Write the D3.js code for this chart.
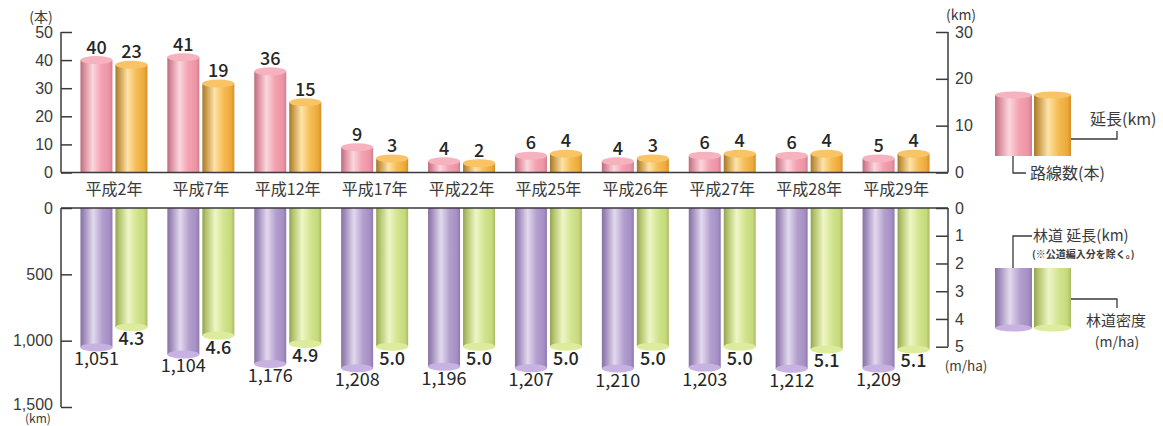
<!DOCTYPE html>
<html><head><meta charset="utf-8">
<script src="https://cdn.jsdelivr.net/npm/d3@7"></script>
<style>
html,body{margin:0;padding:0;background:#fff;}
svg{display:block;font-family:"Noto Sans CJK JP","Noto Sans",sans-serif;}
</style></head>
<body>
<svg id="c" width="1163" height="426"></svg>
<script>
const categories = ['平成2年','平成7年','平成12年','平成17年','平成22年','平成25年','平成26年','平成27年','平成28年','平成29年'];
const routeCount = [40,41,36,9,4,6,4,6,6,5];
const newLengthKm = [23,19,15,3,2,4,3,4,4,4];
const forestRoadKm = [1051,1104,1176,1208,1196,1207,1210,1203,1212,1209];
const forestDensity = [4.3,4.6,4.9,5.0,5.0,5.0,5.0,5.0,5.1,5.1];
const leftTopTicks = [0,10,20,30,40,50];
const rightTopTicks = [0,10,20,30];
const leftBottomTicks = [0,500,1000,1500];
const rightBottomTicks = [0,1,2,3,4,5];

const svg = d3.select('#c');
const defs = svg.append('defs');
function grad(id, stops){
  const g = defs.append('linearGradient').attr('id',id).attr('x1','0%').attr('x2','100%').attr('y1','0%').attr('y2','0%');
  stops.forEach(([o,c])=>g.append('stop').attr('offset',o).attr('stop-color',c));
}
grad('gPink',[[0,'#b86c7e'],[0.12,'#d98c9c'],[0.38,'#fbd6dd'],[0.65,'#f3a2b1'],[0.9,'#ec93a4'],[1,'#d27d8e']]);
grad('gOrange',[[0,'#a2782e'],[0.12,'#c99a48'],[0.38,'#fde3aa'],[0.65,'#f5bd55'],[0.9,'#eda93a'],[1,'#d48f2a']]);
grad('gPurple',[[0,'#85729f'],[0.12,'#a08cbb'],[0.4,'#e3d9ee'],[0.68,'#b39fce'],[0.9,'#a58fc4'],[1,'#8f7aad']]);
grad('gGreen',[[0,'#93a352'],[0.12,'#b4c46e'],[0.4,'#eef6c6'],[0.68,'#d1e38c'],[0.9,'#c6d97c'],[1,'#aabb62']]);
const capPink='#f6b2bf', capOrange='#f8c466', capPurple='#c7b2e2', capGreen='#dcec9c';

const axisColor = '#3a3a3a';
const textColor = '#3a3a3a';
const xL = 61, xR = 948;
const topY0 = 172.5, topY1 = 32;
const botY0 = 208;

const x = d3.scaleBand().domain(categories).range([70.5, 939.5]).padding(0);
const yTopL = d3.scaleLinear().domain([0,50]).range([topY0, topY1]);
const yTopR = d3.scaleLinear().domain([0,30]).range([topY0, topY1]);
const yBotL = d3.scaleLinear().domain([0,1500]).range([botY0, 407]);
const yBotR = d3.scaleLinear().domain([0,5]).range([botY0, 346.7]);

const bw = 32, ry = 4;
const cx = c => x(c) + x.bandwidth()/2;
const leftBarX = c => cx(c) - 33.5;
const rightBarX = c => cx(c) + 1.5;

function topBars(data, scale, xf, fill, cap){
  const g = svg.append('g');
  categories.forEach((c,i)=>{
    const yv = scale(data[i]);
    g.append('rect').attr('x',xf(c)).attr('y',yv).attr('width',bw).attr('height',topY0-yv).attr('fill',`url(#${fill})`);
    g.append('ellipse').attr('cx',xf(c)+bw/2).attr('cy',yv).attr('rx',bw/2).attr('ry',ry).attr('fill',cap);
    g.append('text').attr('x',xf(c)+bw/2).attr('y',yv-6.5).attr('text-anchor','middle')
      .attr('font-size',18).attr('font-weight',500).attr('fill','#262626').text(data[i]);
  });
}
topBars(routeCount, yTopL, leftBarX, 'gPink', capPink);
topBars(newLengthKm, yTopR, rightBarX, 'gOrange', capOrange);

function botBars(data, scale, xf, fill, cap, fmt, weight){
  const g = svg.append('g');
  categories.forEach((c,i)=>{
    const yv = scale(data[i]);
    g.append('rect').attr('x',xf(c)).attr('y',botY0).attr('width',bw).attr('height',yv-botY0).attr('fill',`url(#${fill})`);
    g.append('ellipse').attr('cx',xf(c)+bw/2).attr('cy',yv).attr('rx',bw/2).attr('ry',ry).attr('fill',cap);
    g.append('text').attr('x',xf(c)+bw/2).attr('y',yv+18).attr('text-anchor','middle')
      .attr('font-size',18).attr('font-weight',weight).attr('fill','#262626').text(fmt(data[i]));
  });
}
botBars(forestRoadKm, yBotL, leftBarX, 'gPurple', capPurple, d3.format(','), 400);
botBars(forestDensity, yBotR, rightBarX, 'gGreen', capGreen, d3.format('.1f'), 500);

function styleAxis(g){
  g.selectAll('path.domain').remove();
  g.selectAll('line').attr('stroke',axisColor).attr('stroke-width',1.5);
  g.selectAll('text').attr('fill',textColor).attr('font-size',16);
}
svg.append('g').attr('transform',`translate(${xL},0)`)
  .call(d3.axisRight(yTopL).tickValues(leftTopTicks).tickSize(11).tickFormat(d3.format('d')))
  .call(styleAxis).call(g=>g.selectAll('text').attr('x',-8).attr('text-anchor','end'));
svg.append('g').attr('transform',`translate(${xR},0)`)
  .call(d3.axisLeft(yTopR).tickValues(rightTopTicks).tickSize(12).tickFormat(d3.format('d')))
  .call(styleAxis).call(g=>g.selectAll('text').attr('x',7).attr('text-anchor','start'));
svg.append('g').attr('transform',`translate(${xL},0)`)
  .call(d3.axisRight(yBotL).tickValues(leftBottomTicks).tickSize(11).tickFormat(d3.format(',')))
  .call(styleAxis).call(g=>g.selectAll('text').attr('x',-8).attr('text-anchor','end')
    .attr('dy',d=>d===1500?'0.15em':'0.32em'));
svg.append('g').attr('transform',`translate(${xR},0)`)
  .call(d3.axisLeft(yBotR).tickValues(rightBottomTicks).tickSize(12).tickFormat(d3.format('d')))
  .call(styleAxis).call(g=>g.selectAll('text').attr('x',7).attr('text-anchor','start'));

const line = (x1,y1,x2,y2)=>svg.append('line').attr('x1',x1).attr('y1',y1).attr('x2',x2).attr('y2',y2)
  .attr('stroke',axisColor).attr('stroke-width',1.5);
line(xL, yTopL(50), xL, topY0);
line(xR, yTopR(30), xR, topY0);
line(xL, topY0, xR, topY0);
line(xL, botY0, xR, botY0);
line(xL, botY0, xL, yBotL(1500));
line(xR, botY0, xR, yBotR(5));

svg.append('g').selectAll('text').data(categories).join('text')
  .attr('x',d=>cx(d)).attr('y',189.5).attr('dy','0.35em').attr('text-anchor','middle')
  .attr('font-size',16).attr('fill',textColor).text(d=>d);

const unit = (t,xx,yy,anchor,fs)=>svg.append('text').attr('x',xx).attr('y',yy).attr('dy','0.35em')
  .attr('text-anchor',anchor).attr('font-size',fs||14).attr('fill',textColor).text(t);
unit('(本)',41,17,'middle',14);
unit('(km)',961,15,'middle',14);
unit('(km)',38,418.5,'middle',12);
unit('(m/ha)',966,366,'middle',13.5);

function legendCyl(xx, yTop, yBot, fill, cap, capAtTop){
  svg.append('rect').attr('x',xx).attr('y',yTop).attr('width',37).attr('height',yBot-yTop).attr('fill',`url(#${fill})`);
  svg.append('ellipse').attr('cx',xx+18.5).attr('cy',capAtTop?yTop:yBot).attr('rx',18.5).attr('ry',3.5).attr('fill',cap);
}
legendCyl(995, 95, 156, 'gPink', capPink, true);
legendCyl(1034, 95, 156, 'gOrange', capOrange, true);
legendCyl(995, 268, 328, 'gPurple', capPurple, false);
legendCyl(1034, 268, 328, 'gGreen', capGreen, false);

const pth = (d)=>svg.append('path').attr('d',d).attr('fill','none').attr('stroke',axisColor).attr('stroke-width',1.3);
pth('M1071,139H1117V131');
pth('M1013,156V173H1026');
pth('M1013,268V236H1032');
pth('M1071,299H1117V308');

const lt = (t,xx,yy,anchor,fs,fw)=>svg.append('text').attr('x',xx).attr('y',yy).attr('dy','0.35em')
  .attr('text-anchor',anchor).attr('font-size',fs).attr('font-weight',fw||400).attr('fill',textColor).text(t);
lt('延長(km)',1090,119,'start',16);
lt('路線数(本)',1030,173,'start',16);
lt('林道 延長(km)',1033,236,'start',15);
lt('(※公道編入分を除く。)',1032,254,'start',10,700);
lt('林道密度',1116,321,'middle',15);
lt('(m/ha)',1117,342,'middle',14);
</script>
</body></html>
